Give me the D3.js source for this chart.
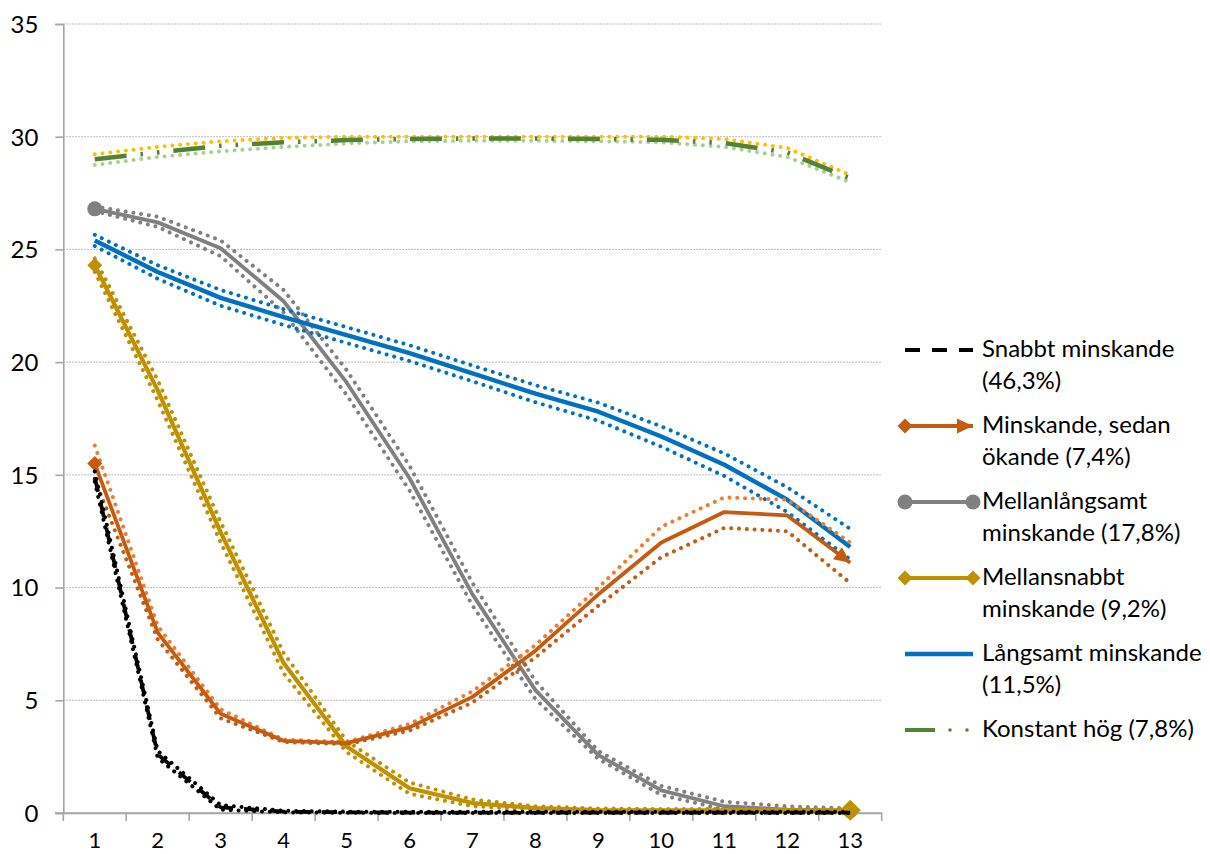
<!DOCTYPE html>
<html>
<head>
<meta charset="utf-8">
<script src="https://cdn.jsdelivr.net/npm/d3@7"></script>
<style>
  body { margin: 0; background: #fff; }
  svg { display: block; font-family: Lato, "Noto Sans", sans-serif; }
</style>
</head>
<body>
<svg id="chart" width="1210" height="854"></svg>
<script>
// Measurement occasions 1..13
const categories = [1, 2, 3, 4, 5, 6, 7, 8, 9, 10, 11, 12, 13];
const yTicks = [0, 5, 10, 15, 20, 25, 30, 35];

// Snabbt minskande: estimate with upper / lower bounds
const fastMain  = [14.9, 2.6, 0.25, 0.06, 0.03, 0.02, 0.02, 0.02, 0.02, 0.02, 0.02, 0.02, 0.02];
const fastUpper = [15.15, 2.75, 0.35, 0.1, 0.06, 0.05, 0.05, 0.05, 0.05, 0.05, 0.05, 0.05, 0.05];
const fastLower = [14.7, 2.45, 0.15, 0.03, 0.01, 0.0, 0.0, 0.0, 0.0, 0.0, 0.0, 0.0, 0.0];

// Minskande, sedan ökande
const riseMain  = [15.5, 8.0, 4.4, 3.2, 3.1, 3.8, 5.15, 7.2, 9.7, 12.0, 13.35, 13.2, 11.1];
const riseUpper = [16.3, 8.3, 4.6, 3.25, 3.15, 3.95, 5.4, 7.45, 10.0, 12.7, 14.0, 13.9, 12.0];
const riseLower = [14.8, 7.7, 4.2, 3.15, 3.05, 3.65, 4.9, 6.9, 9.2, 11.35, 12.65, 12.5, 10.2];

// Mellanlångsamt minskande
const midSlowMain  = [26.8, 26.2, 25.05, 22.7, 19.1, 14.85, 9.7, 5.45, 2.57, 1.0, 0.3, 0.15, 0.1];
const midSlowUpper = [26.9, 26.45, 25.4, 23.2, 19.65, 15.4, 10.2, 5.85, 2.75, 1.2, 0.5, 0.3, 0.2];
const midSlowLower = [26.7, 26.0, 24.7, 22.2, 18.55, 14.3, 9.2, 5.05, 2.4, 0.8, 0.15, 0.05, 0.02];

// Mellansnabbt minskande
const midFastMain  = [24.3, 18.75, 12.45, 6.65, 2.95, 1.1, 0.44, 0.22, 0.13, 0.12, 0.12, 0.12, 0.12];
const midFastUpper = [24.6, 19.2, 12.9, 7.1, 3.2, 1.35, 0.6, 0.3, 0.2, 0.18, 0.18, 0.18, 0.18];
const midFastLower = [24.0, 18.3, 12.0, 6.2, 2.7, 0.85, 0.3, 0.14, 0.08, 0.06, 0.06, 0.06, 0.06];

// Långsamt minskande
const slowMain  = [25.4, 24.0, 22.85, 22.0, 21.2, 20.4, 19.5, 18.6, 17.8, 16.7, 15.45, 13.9, 11.8];
const slowUpper = [25.65, 24.3, 23.2, 22.35, 21.55, 20.75, 19.85, 18.98, 18.2, 17.15, 15.95, 14.45, 12.6];
const slowLower = [25.15, 23.7, 22.5, 21.65, 20.85, 20.05, 19.15, 18.22, 17.4, 16.25, 14.95, 13.35, 11.25];

// Konstant hög
const highMain  = [29.0, 29.3, 29.6, 29.75, 29.85, 29.9, 29.92, 29.92, 29.9, 29.86, 29.72, 29.3, 28.15];
const highUpper = [29.22, 29.55, 29.8, 29.95, 30.0, 30.0, 30.0, 30.0, 30.0, 30.0, 29.9, 29.5, 28.3];
const highLower = [28.75, 29.1, 29.35, 29.55, 29.7, 29.8, 29.82, 29.82, 29.8, 29.75, 29.55, 29.1, 27.98];

const legendLabels = [
  ["Snabbt minskande", "(46,3%)"],
  ["Minskande, sedan", "ökande (7,4%)"],
  ["Mellanlångsamt", "minskande (17,8%)"],
  ["Mellansnabbt", "minskande (9,2%)"],
  ["Långsamt minskande", "(11,5%)"],
  ["Konstant hög (7,8%)"]
];

const svg = d3.select("#chart");
const x = d3.scalePoint().domain(categories).range([63.3, 881.7]).padding(0.5);
const y = d3.scaleLinear().domain([0, 35]).range([813, 24]);
const line = d3.line().x((d, i) => x(categories[i])).y(d => y(d));

const axisColor = "#a6a6a6";
const dotDash = "0.01 7.8";

// Gridlines
svg.append("g").selectAll("line").data(yTicks.filter(t => t > 0)).join("line")
  .attr("x1", 63.3).attr("x2", 881.7)
  .attr("y1", d => y(d)).attr("y2", d => y(d))
  .attr("stroke", "#a6a6a6").attr("stroke-width", 1).attr("stroke-dasharray", "1.5 1.5");

// Axes
const yAxis = svg.append("g").attr("transform", "translate(63.3,0)")
  .call(d3.axisLeft(y).tickValues(yTicks).tickSize(8).tickPadding(17));
const xAxis = svg.append("g").attr("transform", "translate(0,813)")
  .call(d3.axisBottom(x).tickValues([]).tickSizeOuter(0));
[yAxis, xAxis].forEach(g => {
  g.select(".domain").attr("stroke", axisColor).attr("stroke-width", 1.6);
  g.selectAll(".tick line").attr("stroke", axisColor).attr("stroke-width", 1.6);
  g.selectAll("text").attr("fill", "#000").attr("font-size", 24).attr("font-family", "Lato, sans-serif");
});
yAxis.selectAll(".tick text").attr("dy", "0.35em");
// x category boundaries and labels
const step = x.step();
const boundaries = d3.range(categories.length + 1).map(i => 63.3 + i * step);
svg.append("g").selectAll("line").data(boundaries).join("line")
  .attr("x1", d => d).attr("x2", d => d).attr("y1", 813).attr("y2", 821)
  .attr("stroke", axisColor).attr("stroke-width", 1.6);
svg.append("line").attr("x1", 55).attr("x2", 881.7).attr("y1", 813).attr("y2", 813)
  .attr("stroke", axisColor).attr("stroke-width", 1.6);
svg.append("g").selectAll("text").data(categories).join("text")
  .attr("x", d => x(d)).attr("y", 848).attr("text-anchor", "middle")
  .attr("font-size", 22).text(d => d);

// Marker definitions
const defs = svg.append("defs");
defs.append("marker").attr("id", "arrow-orange")
  .attr("markerUnits", "userSpaceOnUse").attr("markerWidth", 20).attr("markerHeight", 20)
  .attr("viewBox", "-1 -10 20 20").attr("refX", 16).attr("refY", 0).attr("orient", "auto")
  .append("path").attr("d", "M0,-7.5L16,0L0,7.5Z").attr("fill", "#C55A11");

const diamond = (g, cx, cy, r, color) =>
  g.append("path").attr("d", `M${cx - r},${cy}L${cx},${cy - r}L${cx + r},${cy}L${cx},${cy + r}Z`).attr("fill", color);

// Series table
const groups = [
  { main: highMain, upper: highUpper, lower: highLower, color: "#548235", upColor: "#FFC000", lowColor: "#A9D18E",
    width: 4.5, dash: "32 14 2.5 14 2.5 14" },
  { main: midSlowMain, upper: midSlowUpper, lower: midSlowLower, color: "#808080", upColor: "#808080", lowColor: "#808080",
    width: 3.8, start: "circle", end: "circle" },
  { main: slowMain, upper: slowUpper, lower: slowLower, color: "#0070C0", upColor: "#0070C0", lowColor: "#0070C0", width: 4.4 },
  { main: midFastMain, upper: midFastUpper, lower: midFastLower, color: "#BF9000", upColor: "#BF9000", lowColor: "#BF9000",
    width: 4.2, start: "diamond", end: "diamond" },
  { main: riseMain, upper: riseUpper, lower: riseLower, color: "#C55A11", upColor: "#ED7D31", lowColor: "#C55A11",
    width: 3.8, start: "diamond", end: "arrow" },
  { main: fastMain, upper: fastUpper, lower: fastLower, color: "#000000", upColor: "#000000", lowColor: "#000000",
    width: 3.8, dash: "15 11" }
];

const plot = svg.append("g");
groups.forEach(s => {
  const g = plot.append("g");
  [[s.upper, s.upColor], [s.lower, s.lowColor]].forEach(([vals, c]) => {
    g.append("path").attr("d", line(vals)).attr("fill", "none").attr("stroke", c)
      .attr("stroke-width", 4).attr("stroke-linecap", "round").attr("stroke-dasharray", dotDash);
  });
  const p = g.append("path").attr("d", line(s.main)).attr("fill", "none").attr("stroke", s.color)
    .attr("stroke-width", s.width).attr("stroke-linejoin", "round");
  if (s.dash) p.attr("stroke-dasharray", s.dash);
  if (s.end === "arrow") p.attr("marker-end", "url(#arrow-orange)");
  const first = [x(categories[0]), y(s.main[0])];
  const last = [x(categories[categories.length - 1]), y(s.main[s.main.length - 1])];
  if (s.start === "circle") g.append("circle").attr("cx", first[0]).attr("cy", first[1]).attr("r", 7.5).attr("fill", s.color);
  if (s.end === "circle") g.append("circle").attr("cx", last[0]).attr("cy", last[1]).attr("r", 7.5).attr("fill", s.color);
  if (s.start === "diamond") diamond(g, first[0], first[1], 7.5, s.color);
  if (s.end === "diamond") diamond(g, last[0], last[1], 10.5, s.color);
});

// Legend
const legend = svg.append("g");
const lx0 = 905, lx1 = 973, tx = 982;
const legendRows = [5, 4, 1, 3, 2, 0];
legendLabels.forEach((lines, i) => {
  const base = 357 + i * 76;
  const ly = base - 7;
  const s = groups[legendRows[i]];
  const g = legend.append("g");
  if (i === 5) {
    g.append("line").attr("x1", lx0).attr("x2", lx0 + 30).attr("y1", ly).attr("y2", ly)
      .attr("stroke", s.color).attr("stroke-width", 4);
    [950, 967].forEach(cx => g.append("circle").attr("cx", cx).attr("cy", ly).attr("r", 1.8).attr("fill", s.color));
  } else {
    const l = g.append("line").attr("x1", lx0).attr("x2", lx1).attr("y1", ly).attr("y2", ly)
      .attr("stroke", s.color).attr("stroke-width", s.width);
    if (s.dash) l.attr("stroke-dasharray", "15 12");
    if (s.end === "arrow") l.attr("marker-end", "url(#arrow-orange)");
    if (s.start === "circle") { g.append("circle").attr("cx", lx0).attr("cy", ly).attr("r", 7.5).attr("fill", s.color);
      g.append("circle").attr("cx", lx1).attr("cy", ly).attr("r", 7.5).attr("fill", s.color); }
    if (s.start === "diamond") diamond(g, lx0, ly, 7.5, s.color);
    if (s.end === "diamond") diamond(g, lx1, ly, 7.5, s.color);
  }
  lines.forEach((t, j) => {
    g.append("text").attr("x", tx).attr("y", base + j * 31.7).attr("font-size", 24).attr("fill", "#000").text(t);
  });
});
</script>
</body>
</html>
